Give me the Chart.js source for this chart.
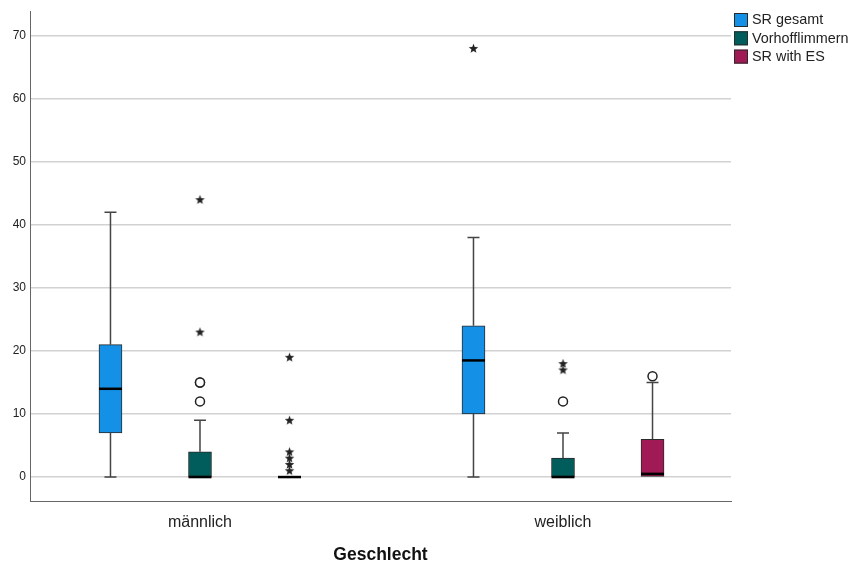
<!DOCTYPE html>
<html>
<head>
<meta charset="utf-8">
<script src="https://cdn.jsdelivr.net/npm/chart.js@4.4.1/dist/chart.umd.min.js"></script>
<style>
	body { margin: 0; background: #fff; }
	#wrap { width: 852px; height: 566px; }
</style>
</head>
<body>
<div id="wrap"><canvas id="grafica" width="852" height="566"></canvas></div>
<script>
// categories and series
const categories = ['männlich', 'weiblich'];
const seriesNames = ['SR gesamt', 'Vorhofflimmern', 'SR with ES'];
const seriesColors = ['#1491e6', '#015d5c', '#a01a55'];
const yTicks = [0, 10, 20, 30, 40, 50, 60, 70];

// box values per category: [min, q1, median, q3, max]
const srGesamtBox = [[0, 7, 14, 21, 42], [0, 10, 18.5, 24, 38]];
const vorhofBox = [[0, 0, 0, 4, 9], [0, 0, 0, 3, 7]];
const srEsBox = [[0, 0, 0, 0, 0], [0, 0, 0.5, 6, 15]];

// outliers per category (circles = outliers, stars = extremes)
const srGesamtCircles = [[], []];
const srGesamtStars = [[], [68]];
const vorhofCircles = [[12, 15, 15], [12]];
const vorhofStars = [[23, 44], [17, 18]];
const srEsCircles = [[], [16]];
const srEsStars = [[1, 2, 3, 4, 9, 19], []];

const boxes = [srGesamtBox, vorhofBox, srEsBox];
const circles = [srGesamtCircles, vorhofCircles, srEsCircles];
const stars = [srGesamtStars, vorhofStars, srEsStars];

const offsets = [-0.2466, 0, 0.2466];
const boxPx = 23;

function posX(cat, s) {
	return cat + 1 + offsets[s];
}

// small filled star for the extremes
function starImage() {
	const c = document.createElement('canvas');
	c.width = 11;
	c.height = 11;
	const g = c.getContext('2d');
	g.fillStyle = '#222';
	g.beginPath();
	for (let i = 0; i < 10; i++) {
		const r = i % 2 === 0 ? 5 : 2.1;
		const a = -Math.PI / 2 + i * Math.PI / 5;
		const px = 5.5 + r * Math.cos(a);
		const py = 5.8 + r * Math.sin(a);
		if (i === 0) g.moveTo(px, py); else g.lineTo(px, py);
	}
	g.closePath();
	g.fill();
	return c;
}
const star = starImage();

const datasets = [];
seriesNames.forEach((name, s) => {
	datasets.push({
		type: 'bar',
		label: name,
		grouped: false,
		barThickness: boxPx,
		backgroundColor: seriesColors[s],
		borderColor: '#2a2a2a',
		borderWidth: 1,
		borderSkipped: false,
		data: boxes[s].map((b, c) => ({ x: posX(c, s), y: [b[1], b[3]] })),
	});
});
seriesNames.forEach((name, s) => {
	const pts = [];
	circles[s].forEach((vals, c) => vals.forEach((v) => pts.push({ x: posX(c, s), y: v })));
	datasets.push({
		type: 'scatter',
		label: name + ' circles',
		data: pts,
		pointStyle: 'circle',
		pointRadius: 4.5,
		pointBorderWidth: 1.5,
		pointBorderColor: '#222',
		pointBackgroundColor: '#fff',
	});
	const spts = [];
	stars[s].forEach((vals, c) => vals.forEach((v) => spts.push({ x: posX(c, s), y: v })));
	datasets.push({
		type: 'scatter',
		label: name + ' stars',
		data: spts,
		pointStyle: star,
		pointRadius: 5,
	});
});

const whiskers = {
	id: 'whiskers',
	afterDatasetsDraw(chart) {
		const ctx = chart.ctx;
		const xs = chart.scales.x;
		const ys = chart.scales.y;
		ctx.save();
		boxes.forEach((box, s) => {
			box.forEach((b, c) => {
				const px = xs.getPixelForValue(posX(c, s));
				const yMin = ys.getPixelForValue(b[0]);
				const yQ1 = ys.getPixelForValue(b[1]);
				const yMed = ys.getPixelForValue(b[2]);
				const yQ3 = ys.getPixelForValue(b[3]);
				const yMax = ys.getPixelForValue(b[4]);
				ctx.strokeStyle = '#444';
				ctx.lineWidth = 1.5;
				ctx.beginPath();
				if (b[4] > b[3]) {
					ctx.moveTo(px, yQ3);
					ctx.lineTo(px, yMax);
					ctx.moveTo(px - 6, yMax);
					ctx.lineTo(px + 6, yMax);
				}
				if (b[1] > b[0]) {
					ctx.moveTo(px, yQ1);
					ctx.lineTo(px, yMin);
					ctx.moveTo(px - 6, yMin);
					ctx.lineTo(px + 6, yMin);
				}
				ctx.stroke();
				ctx.strokeStyle = '#000';
				ctx.lineWidth = 2.5;
				ctx.beginPath();
				ctx.moveTo(px - boxPx / 2, yMed);
				ctx.lineTo(px + boxPx / 2, yMed);
				ctx.stroke();
			});
		});
		ctx.restore();
	},
	afterDraw(chart) {
		// legend, top right
		const ctx = chart.ctx;
		ctx.save();
		ctx.font = '14.4px "Liberation Sans", Arial, sans-serif';
		ctx.textBaseline = 'middle';
		seriesNames.forEach((name, s) => {
			const y = 13 + s * 18.3;
			ctx.fillStyle = seriesColors[s];
			ctx.fillRect(734, y, 14, 14);
			ctx.strokeStyle = '#2a2a2a';
			ctx.lineWidth = 1;
			ctx.strokeRect(734.5, y + 0.5, 13, 13);
			ctx.fillStyle = '#222';
			ctx.fillText(name, 752, y + 7.5);
		});
		ctx.restore();
	},
};

const ctx = document.querySelector('#grafica');
const chart = new Chart(ctx, {
	type: 'bar',
	data: { datasets: datasets },
	plugins: [whiskers],
	options: {
		responsive: false,
		animation: false,
		layout: { padding: { top: 10, right: 121, left: 0, bottom: 0 } },
		plugins: {
			legend: { display: false },
			tooltip: { enabled: false },
		},
		scales: {
			x: {
				type: 'linear',
				min: 0.5317,
				max: 2.4628,
				offset: false,
				afterBuildTicks: (scale) => {
					scale.ticks = categories.map((c, i) => ({ value: i + 1 }));
				},
				afterFit: (scale) => {
					scale.height = 65;
				},
				ticks: {
					padding: 12,
					color: '#222',
					font: { family: '"Liberation Sans", Arial, sans-serif', size: 16 },
					callback: (v) => categories[Math.round(v) - 1],
				},
				grid: { display: false, drawTicks: false },
				border: { display: true, color: '#666', width: 1 },
				title: {
					display: true,
					text: 'Geschlecht',
					color: '#111',
					padding: { top: 0, bottom: 0 },
					font: { family: '"Liberation Sans", Arial, sans-serif', size: 17.5, weight: 'bold' },
				},
			},
			y: {
				min: -3.8,
				max: 73.9,
				afterBuildTicks: (scale) => {
					scale.ticks = yTicks.map((v) => ({ value: v }));
				},
				afterFit: (scale) => {
					scale.width = 30;
				},
				ticks: {
					padding: 4,
					color: '#222',
					font: { family: '"Liberation Sans", Arial, sans-serif', size: 12 },
				},
				grid: { color: '#d2d2d2', lineWidth: 1.5, drawTicks: false },
				border: { display: true, color: '#666', width: 1 },
			},
		},
	},
});
</script>
</body>
</html>
